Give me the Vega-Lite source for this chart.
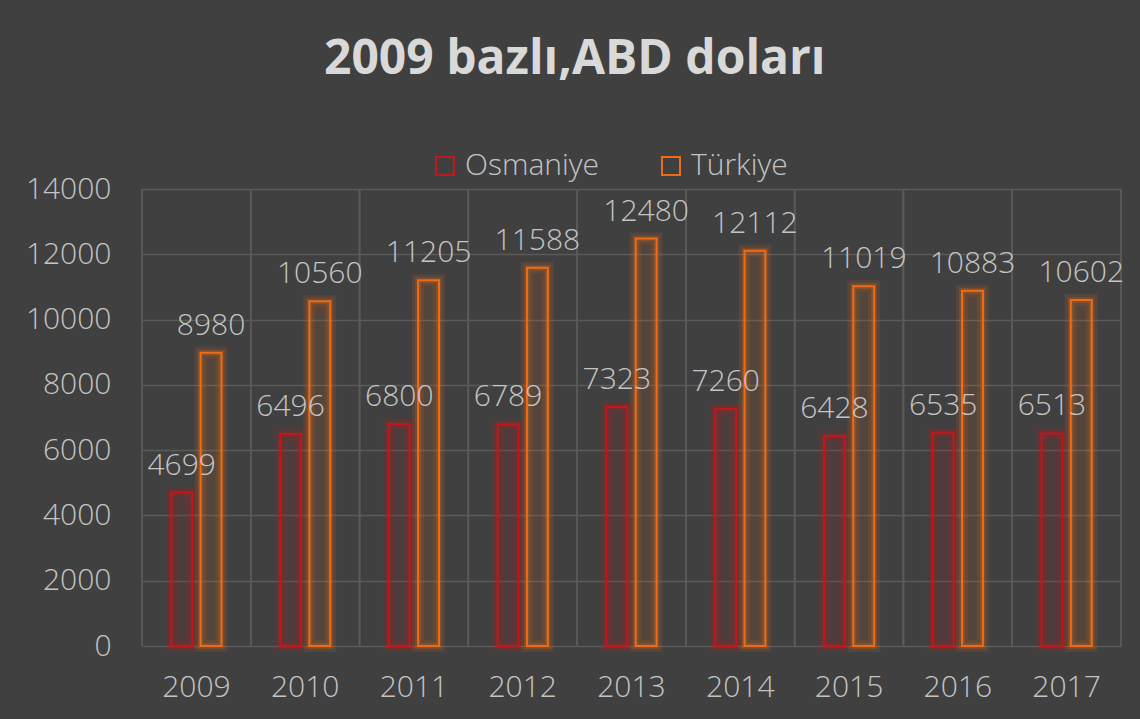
{
  "$schema": "https://vega.github.io/schema/vega-lite/v6.json",
  "width": 979,
  "height": 457,
  "autosize": "none",
  "padding": {"left": 142, "top": 189, "right": 19, "bottom": 73},
  "background": "#404040",
  "config": {
    "view": {"stroke": null},
    "font": "Open Sans",
    "axisX": {"grid": false, "domain": false, "ticks": false, "labelFontSize": 30, "labelFontWeight": 300, "labelColor": "#c4c4c4", "labelPadding": 26, "labelAngle": 0},
    "axisY": {"grid": true, "gridColor": "#5a5a5a", "gridWidth": 1.5, "domain": false, "ticks": false, "labelFontSize": 30, "labelFontWeight": 300, "labelColor": "#c4c4c4", "labelPadding": 31}
  },
  "title": {"text": "2009 bazlı,ABD doları", "fontSize": 48, "fontWeight": "bold", "color": "#d9d9d9", "anchor": "middle", "frame": "bounds", "offset": 67},
  "data": {"values": [
    {"year": "2009", "region": "Osmaniye", "value": 4699},
    {"year": "2009", "region": "Türkiye", "value": 8980},
    {"year": "2010", "region": "Osmaniye", "value": 6496},
    {"year": "2010", "region": "Türkiye", "value": 10560},
    {"year": "2011", "region": "Osmaniye", "value": 6800},
    {"year": "2011", "region": "Türkiye", "value": 11205},
    {"year": "2012", "region": "Osmaniye", "value": 6789},
    {"year": "2012", "region": "Türkiye", "value": 11588},
    {"year": "2013", "region": "Osmaniye", "value": 7323},
    {"year": "2013", "region": "Türkiye", "value": 12480},
    {"year": "2014", "region": "Osmaniye", "value": 7260},
    {"year": "2014", "region": "Türkiye", "value": 12112},
    {"year": "2015", "region": "Osmaniye", "value": 6428},
    {"year": "2015", "region": "Türkiye", "value": 11019},
    {"year": "2016", "region": "Osmaniye", "value": 6535},
    {"year": "2016", "region": "Türkiye", "value": 10883},
    {"year": "2017", "region": "Osmaniye", "value": 6513},
    {"year": "2017", "region": "Türkiye", "value": 10602}
  ]},
  "layer": [
    {
      "mark": {"type": "rule", "color": "#5a5a5a", "strokeWidth": 1.5},
      "encoding": {"x": {"field": "year", "type": "nominal", "bandPosition": 0, "title": null, "scale": {"paddingInner": 0, "paddingOuter": 0}}}
    },
    {
      "mark": {"type": "rule", "color": "#5a5a5a", "strokeWidth": 1.5},
      "encoding": {"x": {"field": "year", "type": "nominal", "bandPosition": 1, "title": null}}
    },
    {
      "encoding": {
        "x": {"field": "year", "type": "nominal", "title": null},
        "xOffset": {"field": "region", "type": "nominal", "scale": {"paddingInner": 0.286, "paddingOuter": 1.086}},
        "y": {"field": "value", "type": "quantitative", "title": null, "scale": {"domain": [0, 14000], "nice": false}, "axis": {"values": [0, 2000, 4000, 6000, 8000, 10000, 12000, 14000], "format": "d"}},
        "color": {
          "field": "region", "type": "nominal",
          "scale": {"domain": ["Osmaniye", "Türkiye"], "range": ["#c0181b", "#f06c14"]},
          "legend": {
            "orient": "none", "legendX": 288, "legendY": -38, "direction": "horizontal", "title": null,
            "symbolType": "square", "symbolSize": 324, "symbolStrokeWidth": 2, "symbolOpacity": 1,
            "labelFontSize": 30, "labelFontWeight": 300, "labelColor": "#c4c4c4", "columnPadding": 56, "labelOffset": 5,
            "encode": {"symbols": {"update": {"fill": {"value": "transparent"}, "fillOpacity": {"value": 0}, "strokeWidth": {"value": 2}}}}
          }
        }
      },
      "layer": [
        {"mark": {"type": "bar", "filled": true, "opacity": 0.11}},
        {"mark": {"type": "bar", "filled": false, "strokeWidth": 12, "strokeOpacity": 0.12}},
        {"mark": {"type": "bar", "filled": false, "strokeWidth": 6, "strokeOpacity": 0.22}},
        {"mark": {"type": "bar", "filled": false, "strokeWidth": 2, "strokeOpacity": 1}},
        {
          "mark": {"type": "text", "fontSize": 30, "fontWeight": 300, "color": "#c4c4c4", "baseline": "alphabetic", "align": "center", "dy": -18},
          "encoding": {"text": {"field": "value", "type": "quantitative", "format": "d"}, "color": {"value": "#c4c4c4"}}
        }
      ]
    }
  ]
}
